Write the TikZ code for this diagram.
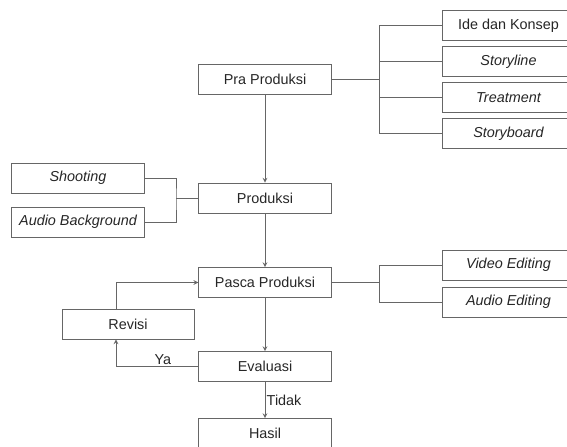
\documentclass[tikz,border=0pt]{standalone}
\usepackage{fontspec}
\setmainfont{Liberation Sans}
\usetikzlibrary{shapes,arrows,positioning,calc}

\begin{document}
\begin{tikzpicture}[
    x=0.75pt, y=-0.75pt,
    box/.style={rectangle, draw=gray!80!black, line width=0.6pt, minimum height=22.5pt, minimum width=99.5pt, inner sep=0pt, align=center, font=\fontsize{10.8}{12}\selectfont, text=black!85},
    sub/.style={box, font=\fontsize{10.8}{12}\selectfont\itshape},
    line/.style={draw=gray!80!black, line width=0.6pt},
    arrow/.style={->, >=stealth, draw=gray!80!black, line width=0.6pt},
    lbl/.style={font=\fontsize{10.8}{12}\selectfont, text=black!85, inner sep=1pt}
]
\useasboundingbox (0,0) rectangle (567,446);

% main column
\node[box] (pra) at (265,79) {Pra Produksi};
\node[box] (prod) at (265,198) {Produksi};
\node[box] (pasca) at (265,282.5) {Pasca Produksi};
\node[box] (eval) at (265,366.5) {Evaluasi};
\node[box] (hasil) at (265,433.5) {Hasil};
\node[box, minimum width=99pt] (revisi) at (128,324) {Revisi};

% pra produksi
\node[box] (ide) at (508.5,25.5) {Ide dan Konsep};
\node[sub] (storyline) at (508.5,61.5) {Storyline};
\node[sub] (treatment) at (508.5,97.5) {Treatment};
\node[sub] (storyboard) at (508.5,133.5) {Storyboard};

% produksi
\node[sub] (shoot) at (78,178) {Shooting};
\node[sub] (audiobg) at (78,222) {Audio Background};

% pasca produksi
\node[sub] (video) at (508.5,265) {Video Editing};
\node[sub] (audioed) at (508.5,302) {Audio Editing};

\coordinate (prabr) at (379,79);
\coordinate (prodbr) at (176,198);
\coordinate (pascabr) at (379,282.5);
\coordinate (ya) at (116,366.5);
\coordinate (rv) at (116,282.5);

\draw[line] (pra) -- (prabr);
\draw[line] (prabr) |- (ide);
\draw[line] (prabr) |- (storyline);
\draw[line] (prabr) |- (treatment);
\draw[line] (prabr) |- (storyboard);

\draw[line] (shoot) -| (prodbr) |- (audiobg);
\draw[line] (prodbr) -- (prod);

\draw[line] (pasca) -- (pascabr);
\draw[line] (pascabr) |- (video);
\draw[line] (pascabr) |- (audioed);

\draw[arrow] (pra) -- (prod);
\draw[arrow] (prod) -- (pasca);
\draw[arrow] (pasca) -- (eval);
\draw[arrow] (eval) -- node[lbl, right] {Tidak} (hasil);
\draw[arrow] (eval) -- node[lbl, above, pos=0.43] {Ya} (ya) -- (ya |- revisi.south);
\draw[arrow] (ya |- revisi.north) -- (rv) -- (pasca);

\end{tikzpicture}
\end{document}
